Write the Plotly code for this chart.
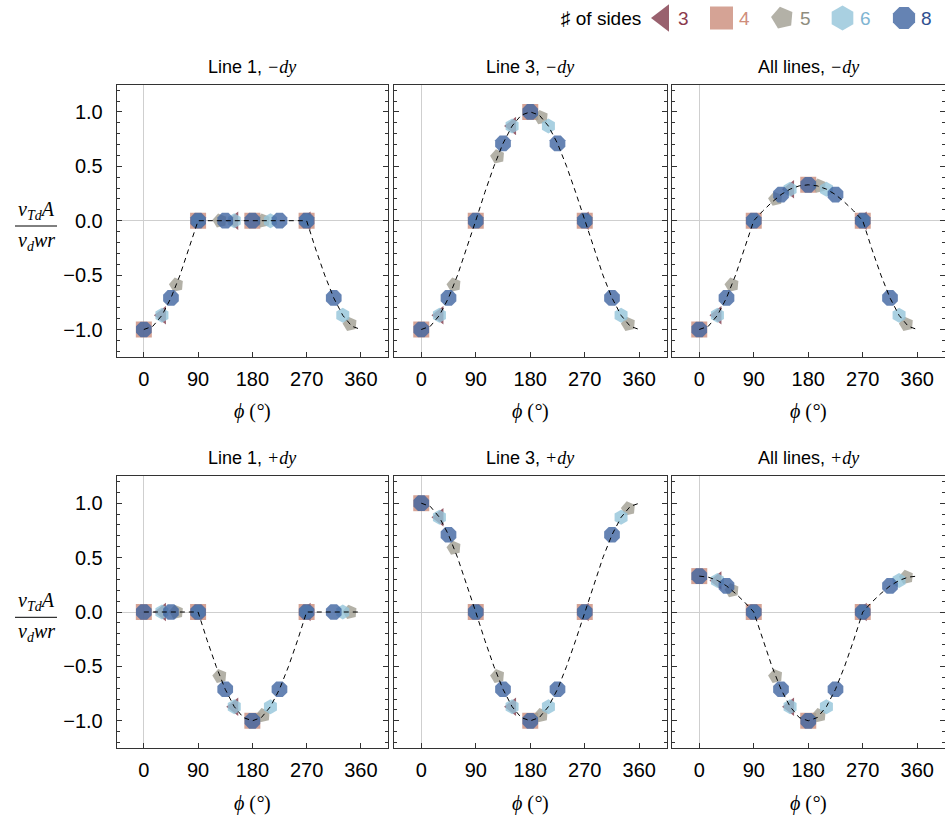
import plotly.graph_objects as go

# ---------------- data ----------------
PHI_CURVE = [0, 15, 30, 45, 60, 75, 90, 105, 120, 135, 150, 165, 180,
             195, 210, 225, 240, 255, 270, 285, 300, 315, 330, 345, 360]

CURVE_L1_MINUS = [-1, -0.97, -0.87, -0.71, -0.5, -0.26, 0, 0, 0, 0, 0, 0, 0,
                  0, 0, 0, 0, 0, 0, -0.26, -0.5, -0.71, -0.87, -0.97, -1]
CURVE_L3_MINUS = [-1, -0.97, -0.87, -0.71, -0.5, -0.26, 0, 0.26, 0.5, 0.71, 0.87, 0.97, 1,
                  0.97, 0.87, 0.71, 0.5, 0.26, 0, -0.26, -0.5, -0.71, -0.87, -0.97, -1]
CURVE_ALL_MINUS = [-1, -0.97, -0.87, -0.71, -0.5, -0.26, 0, 0.09, 0.17, 0.24, 0.29, 0.32, 0.33,
                   0.32, 0.29, 0.24, 0.17, 0.09, 0, -0.26, -0.5, -0.71, -0.87, -0.97, -1]
CURVE_L1_PLUS = [0, 0, 0, 0, 0, 0, 0, -0.26, -0.5, -0.71, -0.87, -0.97, -1,
                 -0.97, -0.87, -0.71, -0.5, -0.26, 0, 0, 0, 0, 0, 0, 0]
CURVE_L3_PLUS = [1, 0.97, 0.87, 0.71, 0.5, 0.26, 0, -0.26, -0.5, -0.71, -0.87, -0.97, -1,
                 -0.97, -0.87, -0.71, -0.5, -0.26, 0, 0.26, 0.5, 0.71, 0.87, 0.97, 1]
CURVE_ALL_PLUS = [0.33, 0.32, 0.29, 0.24, 0.17, 0.09, 0, -0.26, -0.5, -0.71, -0.87, -0.97, -1,
                  -0.97, -0.87, -0.71, -0.5, -0.26, 0, 0.09, 0.17, 0.24, 0.29, 0.32, 0.33]

SIDES = [3, 4, 5, 6, 8]
ANG_3 = [30, 150, 270]
ANG_4 = [0, 90, 180, 270]
ANG_5 = [54, 126, 198, 270, 342]
ANG_6 = [30, 90, 150, 210, 270, 330]
ANG_8 = [0, 45, 90, 135, 180, 225, 270, 315]

L1_MINUS = {3: [-0.87, 0, 0], 4: [-1, 0, 0, 0], 5: [-0.59, 0, 0, 0, -0.95],
            6: [-0.87, 0, 0, 0, 0, -0.87], 8: [-1, -0.71, 0, 0, 0, 0, 0, -0.71]}
L3_MINUS = {3: [-0.87, 0.87, 0], 4: [-1, 0, 1, 0], 5: [-0.59, 0.59, 0.95, 0, -0.95],
            6: [-0.87, 0, 0.87, 0.87, 0, -0.87], 8: [-1, -0.71, 0, 0.71, 1, 0.71, 0, -0.71]}
ALL_MINUS = {3: [-0.87, 0.29, 0], 4: [-1, 0, 0.33, 0], 5: [-0.59, 0.2, 0.32, 0, -0.95],
             6: [-0.87, 0, 0.29, 0.29, 0, -0.87], 8: [-1, -0.71, 0, 0.24, 0.33, 0.24, 0, -0.71]}
L1_PLUS = {3: [0, -0.87, 0], 4: [0, 0, -1, 0], 5: [0, -0.59, -0.95, 0, 0],
           6: [0, 0, -0.87, -0.87, 0, 0], 8: [0, 0, 0, -0.71, -1, -0.71, 0, 0]}
L3_PLUS = {3: [0.87, -0.87, 0], 4: [1, 0, -1, 0], 5: [0.59, -0.59, -0.95, 0, 0.95],
           6: [0.87, 0, -0.87, -0.87, 0, 0.87], 8: [1, 0.71, 0, -0.71, -1, -0.71, 0, 0.71]}
ALL_PLUS = {3: [0.29, -0.87, 0], 4: [0.33, 0, -1, 0], 5: [0.2, -0.59, -0.95, 0, 0.32],
            6: [0.29, 0, -0.87, -0.87, 0, 0.29], 8: [0.33, 0.24, 0, -0.71, -1, -0.71, 0, 0.24]}

PANEL_TITLES = ["Line 1, ", "Line 3, ", "All lines, ", "Line 1, ", "Line 3, ", "All lines, "]
PANEL_SIGNS = ["−dy", "−dy", "−dy", "+dy", "+dy", "+dy"]
X_TICKS = [0, 90, 180, 270, 360]
Y_TICKS = [-1, -0.5, 0, 0.5, 1]
Y_TICKTEXT = ["−1.0", "−0.5", "0.0", "0.5", "1.0"]

# ---------------- style ----------------
W, H = 945, 823
SANS = "Liberation Sans, Arial, sans-serif"
SERIF = "Liberation Serif, Times New Roman, serif"
ANGLES = {3: ANG_3, 4: ANG_4, 5: ANG_5, 6: ANG_6, 8: ANG_8}
SYMBOL = {3: "triangle-left", 4: "square", 5: "pentagon", 6: "hexagon", 8: "octagon"}
MANGLE = {3: 0, 4: 0, 5: -85, 6: 0, 8: 0}
MCOLOR = {3: "rgb(128,58,74)", 4: "rgb(202,140,122)", 5: "rgb(160,158,145)",
          6: "rgb(147,196,217)", 8: "rgb(62,100,160)"}
TCOLOR = {3: "#8a3a4c", 4: "#cf8d7b", 5: "#8f8d7e", 6: "#7fb5d2", 8: "#2f4f90"}
MSIZE = {3: 16, 4: 16, 5: 15, 6: 15, 8: 17}
LSIZE = {3: 24, 4: 23, 5: 23, 6: 25, 8: 24}
LEG_MX = {3: 663, 4: 721.5, 5: 782.5, 6: 842.5, 8: 904}
LEG_TX = {3: 676, 4: 737, 5: 798, 6: 858, 8: 919}

def px_x(p):
    return p / W

def px_y(p):
    return 1 - p / H

X_DOM = [(116.7, 388.0), (394.0, 666.5), (672.0, 944.5)]
Y_DOM = [(84.7, 356.7), (476.0, 748.0)]

panels = [(L1_MINUS, CURVE_L1_MINUS), (L3_MINUS, CURVE_L3_MINUS), (ALL_MINUS, CURVE_ALL_MINUS),
          (L1_PLUS, CURVE_L1_PLUS), (L3_PLUS, CURVE_L3_PLUS), (ALL_PLUS, CURVE_ALL_PLUS)]

fig = go.Figure()
layout = dict(width=W, height=H, margin=dict(l=0, r=0, t=0, b=0),
              paper_bgcolor="white", plot_bgcolor="white", showlegend=False,
              font=dict(family=SANS, size=18, color="black"))
annotations = []
shapes = []

for i, (vals, curve) in enumerate(panels):
    r, c = divmod(i, 3)
    k = i + 1
    xa = "x" if k == 1 else f"x{k}"
    ya = "y" if k == 1 else f"y{k}"
    for n in SIDES:
        fig.add_trace(go.Scatter(
            x=ANGLES[n], y=vals[n], mode="markers", xaxis=xa, yaxis=ya,
            marker=dict(symbol=SYMBOL[n], size=MSIZE[n], color=MCOLOR[n], opacity=0.8,
                        angle=MANGLE[n], line=dict(width=0)),
            hoverinfo="skip"))
    fig.add_trace(go.Scatter(
        x=PHI_CURVE, y=curve, mode="lines", xaxis=xa, yaxis=ya,
        line=dict(color="black", width=1, dash="5px,4px"), hoverinfo="skip"))

    xd = X_DOM[c]
    yd = Y_DOM[r]
    layout[f"xaxis{k if k > 1 else ''}"] = dict(
        domain=[px_x(xd[0]), px_x(xd[1])], range=[-45, 405], anchor=ya,
        tickmode="array", tickvals=X_TICKS, ticks="inside", ticklen=5, tickcolor="#333",
        showline=True, linecolor="#333", linewidth=1, mirror=True,
        showgrid=False, zeroline=True, zerolinecolor="#cfcfcf", zerolinewidth=1,
        tickfont=dict(family=SANS, size=20, color="black"), ticklabelstandoff=4)
    layout[f"yaxis{k if k > 1 else ''}"] = dict(
        domain=[px_y(yd[1]), px_y(yd[0])], range=[-1.25, 1.25], anchor=xa,
        tickmode="array", tickvals=Y_TICKS, ticktext=Y_TICKTEXT,
        ticks="inside", ticklen=5, tickcolor="#333", showticklabels=(c == 0),
        minor=dict(dtick=0.1, ticks="inside", ticklen=3, tickcolor="#333", showgrid=False),
        showline=True, linecolor="#333", linewidth=1, mirror="ticks",
        showgrid=False, zeroline=True, zerolinecolor="#cfcfcf", zerolinewidth=1,
        tickfont=dict(family=SANS, size=20, color="black"), ticklabelstandoff=9)

    cx = (xd[0] + xd[1]) / 2
    title_y = yd[0] - 18
    annotations.append(dict(
        x=px_x(cx), y=px_y(title_y), xref="paper", yref="paper", showarrow=False,
        xanchor="center", yanchor="middle",
        text=PANEL_TITLES[i] + f"<span style='font-family:{SERIF}'><i>{PANEL_SIGNS[i]}</i></span>",
        font=dict(family=SANS, size=18, color="black")))
    annotations.append(dict(
        x=px_x(cx), y=px_y(yd[1] + 55), xref="paper", yref="paper", showarrow=False,
        xanchor="center", yanchor="middle",
        text="<i>ϕ</i> (<i>°</i>)", font=dict(family=SERIF, size=20, color="black")))

# y-axis fraction labels
for r in range(2):
    bar = 226 + r * 391.3
    annotations.append(dict(
        x=px_x(36), y=px_y(bar - 1), xref="paper", yref="paper", showarrow=False,
        xanchor="center", yanchor="bottom",
        text="<i>v</i><sub><i>Td</i></sub><i>A</i>", font=dict(family=SERIF, size=20, color="black")))
    annotations.append(dict(
        x=px_x(36), y=px_y(bar + 1), xref="paper", yref="paper", showarrow=False,
        xanchor="center", yanchor="top",
        text="<i>v</i><sub><i>d</i></sub><i>wr</i>", font=dict(family=SERIF, size=20, color="black")))
    shapes.append(dict(type="line", xref="paper", yref="paper",
                       x0=px_x(15), x1=px_x(57), y0=px_y(bar), y1=px_y(bar),
                       line=dict(color="black", width=1)))

# legend (auxiliary pixel axes at the top)
layout["xaxis7"] = dict(domain=[0, 1], range=[0, W], visible=False, anchor="y7")
layout["yaxis7"] = dict(domain=[px_y(40), 1], range=[40, 0], visible=False, anchor="x7")
for n in SIDES:
    fig.add_trace(go.Scatter(
        x=[LEG_MX[n]], y=[18], mode="markers", xaxis="x7", yaxis="y7",
        marker=dict(symbol=SYMBOL[n], size=LSIZE[n], color=MCOLOR[n], opacity=0.8,
                    angle=MANGLE[n], line=dict(width=0)), hoverinfo="skip"))
    annotations.append(dict(
        x=px_x(LEG_TX[n]), y=px_y(18), xref="paper", yref="paper", showarrow=False,
        xanchor="left", yanchor="middle", text=str(n),
        font=dict(family=SANS, size=19, color=TCOLOR[n])))
annotations.append(dict(
    x=px_x(643), y=px_y(18), xref="paper", yref="paper", showarrow=False,
    xanchor="right", yanchor="middle", text="♯ of sides",
    font=dict(family=SANS, size=19, color="black")))

layout["annotations"] = annotations
layout["shapes"] = shapes
fig.update_layout(**layout)
fig.write_html("out.html", config={"displayModeBar": False},
               post_script="document.body.style.margin='0';document.body.style.overflow='hidden';")
